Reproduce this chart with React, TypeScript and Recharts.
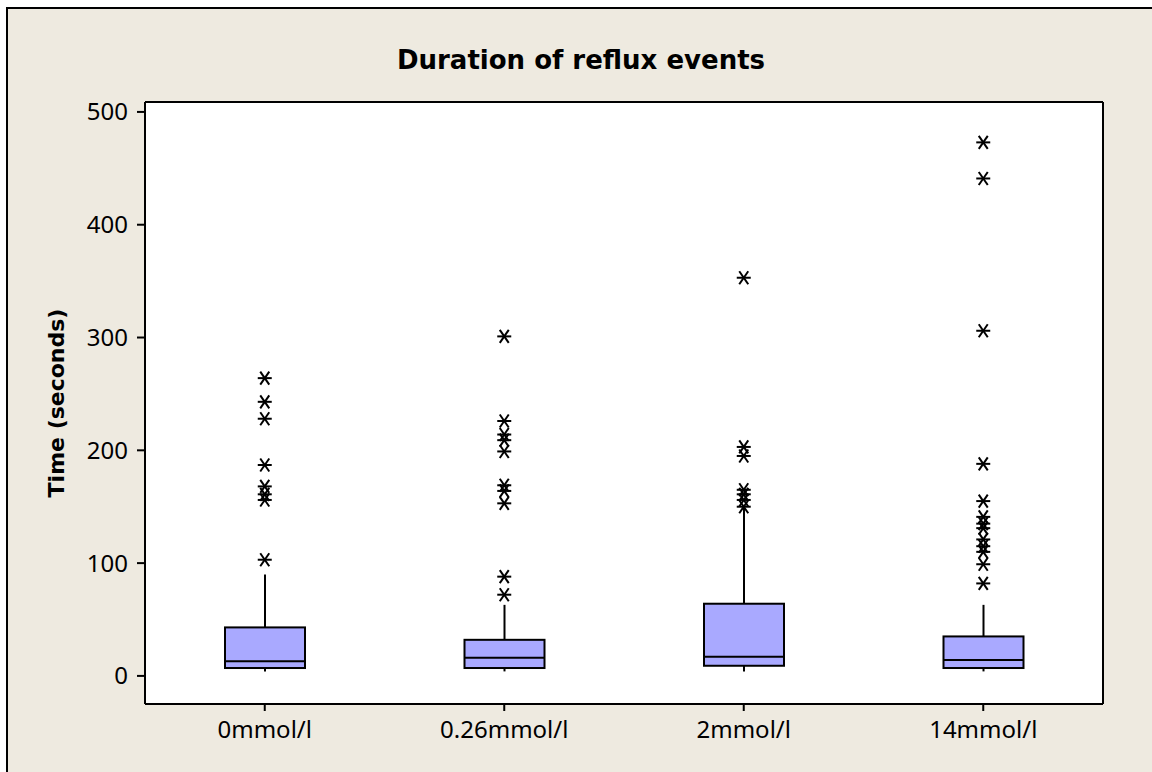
import React from 'react';
import { ComposedChart, Bar, Scatter, XAxis, YAxis, CartesianGrid } from 'recharts';

// concentrations on the x axis
const categories = ['0mmol/l', '0.26mmol/l', '2mmol/l', '14mmol/l'];

// box summaries (seconds)
const whiskerLow = [4, 4, 4, 4];
const q1 = [7, 7, 9, 7];
const median = [13, 16, 17, 14];
const q3 = [43, 32, 64, 35];
const whiskerHigh = [90, 63, 149, 63];

// outliers per group
const outliers0 = [264, 243, 228, 187, 168, 161, 156, 103];
const outliers026 = [301, 226, 214, 209, 199, 169, 164, 153, 88, 72];
const outliers2 = [353, 203, 195, 165, 161, 156, 150];
const outliers14 = [473, 441, 306, 188, 155, 141, 135, 131, 121, 115, 110, 99, 82];

const yTicks = [0, 100, 200, 300, 400, 500];

const boxData = categories.map((name, i) => ({
  name,
  lo: whiskerLow[i],
  q1: q1[i],
  med: median[i],
  q3: q3[i],
  hi: whiskerHigh[i],
}));

const outlierData = [outliers0, outliers026, outliers2, outliers14].flatMap((arr, i) =>
  arr.map((v) => ({ name: categories[i], v }))
);

const BOX_FILL = '#a9a9ff';
const FONT = "Tahoma, 'Noto Sans', sans-serif";

const BoxShape = (props: any) => {
  const { x, width, payload } = props;
  let { y, height } = props;
  if (height < 0) {
    y = y + height;
    height = -height;
  }
  const d = payload;
  // pixels per unit, from the bar the library placed between q1 and q3
  const k = height / (d.q3 - d.q1);
  const py = (v: number) => y + (d.q3 - v) * k;
  const cx = x + width / 2;
  return (
    <g>
      <line x1={cx} x2={cx} y1={py(d.hi)} y2={py(d.q3)} stroke="#000" strokeWidth={2} />
      <line x1={cx} x2={cx} y1={py(d.q1)} y2={py(d.lo)} stroke="#000" strokeWidth={2} />
      <rect x={x} y={y} width={width} height={height} fill={BOX_FILL} stroke="#000" strokeWidth={2} />
      <line x1={x} x2={x + width} y1={py(d.med)} y2={py(d.med)} stroke="#000" strokeWidth={2} />
    </g>
  );
};

const Asterisk = (props: any) => {
  const { cx, cy } = props;
  if (cx == null || cy == null) return null;
  return (
    <g stroke="#000" strokeWidth={2}>
      <line x1={cx - 7} x2={cx + 7} y1={cy} y2={cy} />
      <line x1={cx - 4.5} x2={cx + 4.5} y1={cy - 6.5} y2={cy + 6.5} />
      <line x1={cx - 4.5} x2={cx + 4.5} y1={cy + 6.5} y2={cy - 6.5} />
    </g>
  );
};

export default function App() {
  return (
    <div style={{ position: 'absolute', left: 0, top: 0, width: 1152, height: 772, background: '#fff', overflow: 'hidden' }}>
      <div
        style={{
          position: 'absolute',
          left: 6,
          top: 7,
          width: 1152,
          height: 772,
          background: '#eeeae0',
          borderLeft: '2px solid #000',
          borderTop: '2px solid #000',
        }}
      />
      <div
        style={{
          position: 'absolute',
          left: 0,
          width: 1162,
          top: 44,
          textAlign: 'center',
          fontFamily: "'DejaVu Sans', sans-serif",
          fontWeight: 'bold',
          fontSize: 26,
          lineHeight: '32px',
          color: '#000',
        }}
      >
        Duration of reflux events
      </div>
      <div
        style={{
          position: 'absolute',
          left: 57,
          top: 403,
          transform: 'translate(-50%, -50%) rotate(-90deg)',
          whiteSpace: 'nowrap',
          fontFamily: "'DejaVu Sans', sans-serif",
          fontWeight: 'bold',
          fontSize: 22,
          lineHeight: '26px',
          color: '#000',
        }}
      >
        Time (seconds)
      </div>
      <div style={{ position: 'absolute', left: 0, top: 0 }}>
        <ComposedChart width={1152} height={772} data={boxData} margin={{ top: 102, right: 49, bottom: 8, left: 0 }}>
          {/* white plot area with a frame on all four sides */}
          <CartesianGrid
            fill="#fff"
            stroke="#000"
            strokeWidth={2}
            strokeDasharray=""
            horizontalCoordinatesGenerator={({ offset }: any) => [offset.top, offset.top + offset.height]}
            verticalCoordinatesGenerator={({ offset }: any) => [offset.left, offset.left + offset.width]}
          />
          <XAxis
            dataKey="name"
            type="category"
            allowDuplicatedCategory={false}
            height={60}
            axisLine={{ stroke: '#000', strokeWidth: 2 }}
            tickLine={{ stroke: '#000', strokeWidth: 2 }}
            tickSize={7}
            tickMargin={10}
            tick={{ fill: '#000', fontSize: 24, fontFamily: FONT }}
          />
          <YAxis
            type="number"
            domain={[-24.9, 508.8]}
            ticks={yTicks}
            width={145}
            axisLine={{ stroke: '#000', strokeWidth: 2 }}
            tickLine={{ stroke: '#000', strokeWidth: 2 }}
            tickSize={8}
            tickMargin={9}
            tick={{ fill: '#000', fontSize: 24, fontFamily: FONT }}
          />
          <Bar dataKey={(d: any) => [d.q1, d.q3]} barSize={80} shape={<BoxShape />} isAnimationActive={false} />
          <Scatter data={outlierData} dataKey="v" shape={<Asterisk />} isAnimationActive={false} />
        </ComposedChart>
      </div>
    </div>
  );
}
